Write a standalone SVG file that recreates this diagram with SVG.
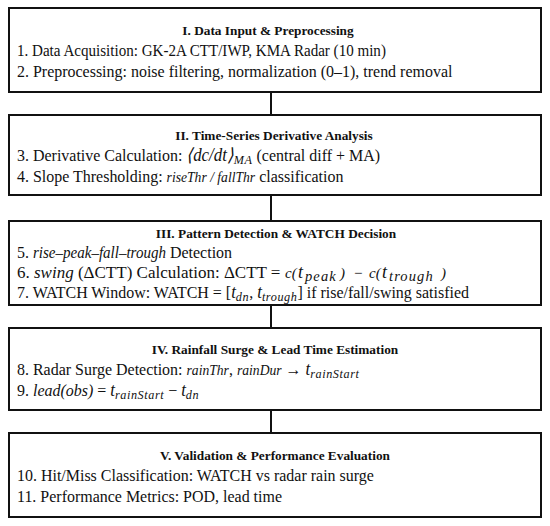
<svg xmlns="http://www.w3.org/2000/svg" width="550" height="526" viewBox="0 0 550 526" xml:space="preserve">
<style>
.box{fill:#fff;stroke:#111;stroke-width:2}
.conn{stroke:#111;stroke-width:2;fill:none}
.t{font-size:17px;fill:#111}
.h{font-size:13.3px;font-weight:bold;fill:#111;text-anchor:middle}
.i{font-style:italic}
.s{font-style:italic;font-size:14.5px}
.m{font-style:italic;font-size:18px}
.c{font-style:italic;font-size:15px}
.sub{font-size:13px;font-style:italic;letter-spacing:0.6px}
.sub2{font-size:14.5px;font-style:italic;letter-spacing:1.1px}
</style>
<rect width="550" height="526" fill="#fff"/>
<g id="connectors">
<line class="conn" x1="271" y1="92" x2="271" y2="115"/>
<line class="conn" x1="271" y1="195" x2="271" y2="221"/>
<line class="conn" x1="271" y1="305" x2="271" y2="328"/>
<line class="conn" x1="271" y1="410" x2="271" y2="433"/>
</g>
<g id="node1" font-family="Liberation Serif, serif">
<rect class="box" x="9" y="8" width="532" height="84"/>
<text class="h" x="268" y="35">I. Data Input &amp; Preprocessing</text>
<text class="t" x="17" y="56" transform="matrix(0.887 0 0 1 1.92 0)">1. Data Acquisition:  GK-2A CTT/IWP, KMA Radar (10 min)</text>
<text class="t" x="17" y="77" transform="matrix(0.94 0 0 1 1.02 0)">2. Preprocessing:  noise filtering, normalization (0–1), trend removal</text>
</g>
<g id="node2" font-family="Liberation Serif, serif">
<rect class="box" x="9" y="115" width="532" height="80"/>
<text class="h" x="274" y="140">II. Time-Series Derivative Analysis</text>
<g transform="matrix(0.94 0 0 1 1.02 0)">
<text class="t" x="17" y="161">3. Derivative Calculation: <tspan class="m">⟨dc/dt⟩</tspan><tspan class="sub" dy="3">MA</tspan><tspan dy="-3"> (central diff + MA)</tspan></text>
<text class="t" x="17" y="182">4. Slope Thresholding: <tspan class="s">riseThr / fallThr</tspan>  classification</text>
</g>
</g>
<g id="node3" font-family="Liberation Serif, serif">
<rect class="box" x="9" y="221" width="532" height="84"/>
<text class="h" x="276" y="238">III. Pattern Detection &amp; WATCH Decision</text>
<text class="t" x="17" y="258" transform="matrix(0.94 0 0 1 1.02 0)">5. <tspan class="i" font-size="16">rise–peak–fall–trough</tspan> Detection</text>
<text class="t" x="17" y="278">6. <tspan class="i">swing</tspan> (ΔCTT) Calculation: ΔCTT = <tspan class="c" x="285">c(</tspan><tspan class="m" x="298">t</tspan><tspan class="sub2" x="305" dy="3">peak</tspan><tspan class="c" x="340" dy="-3">)</tspan><tspan class="c" x="353">−</tspan><tspan class="c" x="369">c(</tspan><tspan class="m" x="382">t</tspan><tspan class="sub2" x="389" dy="3">trough</tspan><tspan class="c" x="441" dy="-3">)</tspan></text>
<text class="t" x="17" y="298" transform="matrix(0.94 0 0 1 1.02 0)">7. WATCH Window:  WATCH = [<tspan class="m">t</tspan><tspan class="sub" dy="3">dn</tspan><tspan dy="-3">, </tspan><tspan class="m">t</tspan><tspan class="sub" dy="3">trough</tspan><tspan dy="-3">] if rise/fall/swing  satisfied</tspan></text>
</g>
<g id="node4" font-family="Liberation Serif, serif">
<rect class="box" x="9" y="328" width="532" height="82"/>
<text class="h" x="275" y="354">IV. Rainfall Surge &amp; Lead Time Estimation</text>
<g transform="matrix(0.94 0 0 1 1.02 0)">
<text class="t" x="17" y="375">8. Radar Surge Detection:  <tspan class="s">rainThr</tspan>, <tspan class="s">rainDur</tspan> → <tspan class="m">t</tspan><tspan class="sub" dy="3">rainStart</tspan></text>
<text class="t" x="17" y="396">9. <tspan class="i">lead(obs)</tspan> = <tspan class="m">t</tspan><tspan class="sub" dy="3">rainStart</tspan><tspan dy="-3">  −  </tspan><tspan class="m">t</tspan><tspan class="sub" dy="3">dn</tspan></text>
</g>
</g>
<g id="node5" font-family="Liberation Serif, serif">
<rect class="box" x="9" y="433" width="532" height="84"/>
<text class="h" x="275" y="460">V. Validation &amp; Performance Evaluation</text>
<g transform="matrix(0.94 0 0 1 1.02 0)">
<text class="t" x="17" y="481">10. Hit/Miss Classification:  WATCH vs radar rain surge</text>
<text class="t" x="17" y="502">11. Performance Metrics:  POD, lead time</text>
</g>
</g>
</svg>
